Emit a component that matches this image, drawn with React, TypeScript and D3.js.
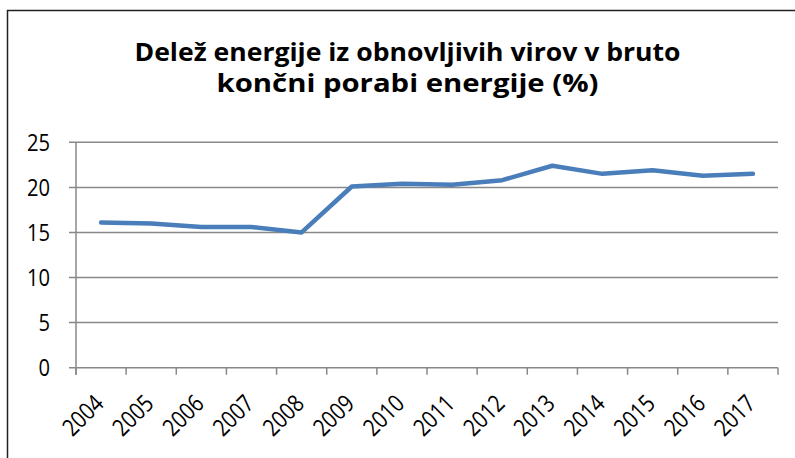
import React from 'react';
import * as d3 from 'd3';

const titleLines = ['Delež energije iz obnovljivih virov v bruto', 'končni porabi energije (%)'];
const years = ['2004', '2005', '2006', '2007', '2008', '2009', '2010', '2011', '2012', '2013', '2014', '2015', '2016', '2017'];
const shares = [16.1, 16.0, 15.6, 15.6, 15.0, 20.1, 20.4, 20.3, 20.8, 22.4, 21.5, 21.9, 21.3, 21.5];
const yTicks = [0, 5, 10, 15, 20, 25];

const W = 795;
const H = 458;
const left = 76;
const right = 778;
const top = 142.3;
const bottom = 367.7;
const font = '"Open Sans", "Liberation Sans", sans-serif';
const gridColor = '#888888';

export default function App() {
  const x = d3.scaleBand<string>().domain(years).range([left, right]).paddingInner(0).paddingOuter(0);
  const y = d3.scaleLinear().domain([0, 25]).range([bottom, top]);
  const bw = x.bandwidth();
  const cx = (yr: string) => (x(yr) as number) + bw / 2;

  const line = d3
    .line<number>()
    .x((_, i) => cx(years[i]))
    .y((d) => y(d));

  const boundaries = d3.range(years.length + 1).map((i) => left + i * bw);

  return (
    <svg
      width={W}
      height={H}
      style={{ position: 'absolute', left: 0, top: 0, display: 'block', background: '#fff' }}
    >
      <rect x={0} y={0} width={W} height={H} fill="#fff" />
      <rect x={7.5} y={10.5} width={W + 20} height={H + 20} fill="none" stroke="#222" strokeWidth={1.5} />

      {titleLines.map((t, i) => (
        <text
          key={t}
          x={407.5}
          y={i === 0 ? 61 : 92}
          textAnchor="middle"
          fontFamily={font}
          fontWeight="bold"
          fontSize={25}
          textLength={i === 0 ? 546 : 382}
          lengthAdjust="spacingAndGlyphs"
          fill="#000"
        >
          {t}
        </text>
      ))}

      {/* gridlines */}
      {yTicks.map((v) => (
        <line key={'g' + v} x1={left - 7} x2={right} y1={y(v)} y2={y(v)} stroke={gridColor} strokeWidth={1.5} />
      ))}
      {/* y axis */}
      <line x1={left} x2={left} y1={top} y2={bottom + 7} stroke={gridColor} strokeWidth={1.5} />
      {/* x ticks */}
      {boundaries.map((bx, i) => (
        <line key={'t' + i} x1={bx} x2={bx} y1={bottom} y2={bottom + 7} stroke={gridColor} strokeWidth={1.5} />
      ))}

      {/* y labels */}
      {yTicks.map((v) => (
        <g key={'yl' + v} transform={`translate(50, ${y(v) + 8.5}) scale(0.84, 1)`}>
          <text x={0} y={0} textAnchor="end" fontFamily={font} fontSize={24} fill="#000">
            {v}
          </text>
        </g>
      ))}

      {/* x labels */}
      {years.map((yr) => (
        <g key={'xl' + yr} transform={`translate(${cx(yr) + 4}, 405) rotate(-45) scale(0.84, 1)`}>
          <text x={0} y={0} textAnchor="end" fontFamily={font} fontSize={24} fill="#000">
            {yr}
          </text>
        </g>
      ))}

      <path
        d={line(shares) || ''}
        fill="none"
        stroke="#4a7ebb"
        strokeWidth={4.5}
        strokeLinejoin="round"
        strokeLinecap="round"
      />
    </svg>
  );
}
